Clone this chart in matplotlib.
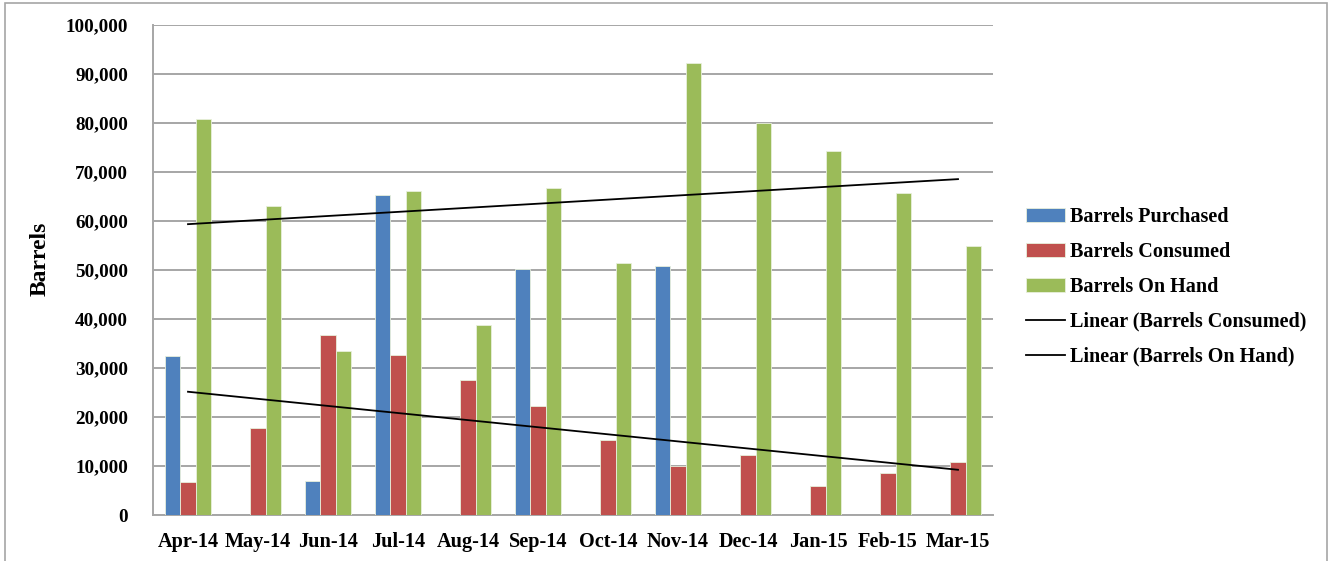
import numpy as np
import matplotlib
matplotlib.use("Agg")
import matplotlib.pyplot as plt
from matplotlib.patches import Rectangle
from matplotlib.ticker import FuncFormatter

months = ["Apr-14", "May-14", "Jun-14", "Jul-14", "Aug-14", "Sep-14",
          "Oct-14", "Nov-14", "Dec-14", "Jan-15", "Feb-15", "Mar-15"]
purchased = [32400, 0, 7000, 65400, 0, 50200, 0, 50800, 0, 0, 0, 0]
consumed = [6700, 17700, 36700, 32600, 27600, 22200, 15300, 10000, 12200, 5900, 8600, 10800]
on_hand = [80800, 63000, 33500, 66200, 38700, 66700, 51400, 92200, 80100, 74200, 65700, 54900]
series_names = ["Barrels Purchased", "Barrels Consumed", "Barrels On Hand"]
trend_names = ["Linear (Barrels Consumed)", "Linear (Barrels On Hand)"]
colors = ["#4F81BD", "#C0504D", "#9BBB59"]

plt.rcParams['font.family'] = ['Liberation Serif', 'DejaVu Serif']
plt.rcParams['font.weight'] = 'bold'

W, H, DPI = 1329, 561, 100
fig = plt.figure(figsize=(W / DPI, H / DPI), dpi=DPI)
# axes in pixel coords: left 153, right 993, top 25, bottom 515
ax = fig.add_axes([153 / W, 1 - 515 / H, (993 - 153) / W, (515 - 25) / H])

x = np.arange(len(months))
bw = 0.218
handles = []
for i, (vals, c, name) in enumerate(zip([purchased, consumed, on_hand], colors, series_names)):
    b = ax.bar(x + (i - 1) * bw, vals, width=bw, color=c, edgecolor="#E8F0DC", linewidth=0.6,
               label=name, zorder=3)
    handles.append(b)

for vals, name in zip([consumed, on_hand], trend_names):
    k, b0 = np.polyfit(x, vals, 1)
    ln, = ax.plot(x, k * x + b0, color="black", linewidth=1.3, label=name, zorder=4)
    handles.append(ln)

ax.set_xlim(-0.5, len(months) - 0.5)
ax.set_ylim(0, 100000)
ax.set_yticks(np.arange(0, 100001, 10000))
ax.yaxis.set_major_formatter(FuncFormatter(lambda v, p: f"{int(v):,}"))
ax.set_xticks(x)
ax.set_xticklabels(months)
ax.grid(axis="y", color="#A6A6A6", linewidth=1.4, zorder=0)
ax.set_axisbelow(True)
for s in ["top", "right"]:
    ax.spines[s].set_visible(False)
for s in ["left", "bottom"]:
    ax.spines[s].set_color("#A6A6A6")
    ax.spines[s].set_linewidth(1.4)
ax.tick_params(axis="x", length=0, labelsize=14.6, pad=12)
ax.tick_params(axis="y", length=0, labelsize=13.8, pad=18)
for lab in ax.get_xticklabels() + ax.get_yticklabels():
    lab.set_fontweight("bold")
ax.set_ylabel("Barrels", fontsize=17, fontweight="bold")
ax.yaxis.set_label_coords((51 - 153) / 840, (515 - 259) / 490)

leg = fig.legend(handles=handles, labels=[h.get_label() for h in handles],
                 loc="upper left", bbox_to_anchor=(1008 / W, 1 - 189 / H),
                 frameon=False, handlelength=1.94, handletextpad=0.25,
                 labelspacing=0.74, prop={'weight': 'bold', 'size': 14.5})

fig.patches.append(Rectangle((5 / W, -0.05), (1327 - 5) / W, 1 - 3 / H + 0.05,
                             transform=fig.transFigure, fill=False,
                             edgecolor="#A6A6A6", linewidth=1.2))

fig.savefig("out.png", dpi=DPI)
